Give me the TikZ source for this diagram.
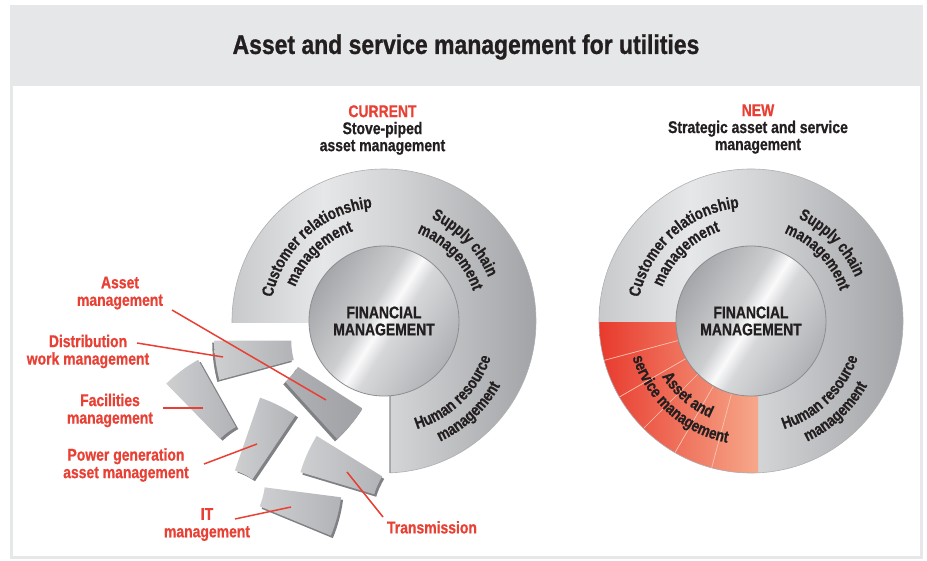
\documentclass[tikz,border=0pt]{standalone}
\usepackage{fontspec}
\setmainfont{Liberation Sans}[FakeStretch=0.82,BoldFeatures={FakeBold=0.7}]
\newfontfamily\titlefont{Liberation Sans}[FakeStretch=0.85,BoldFeatures={FakeBold=0.9}]
\usetikzlibrary{decorations.text,calc}

\definecolor{band}{RGB}{230,231,232}
\definecolor{txt}{RGB}{35,31,32}
\definecolor{lab}{RGB}{232,64,52}
\definecolor{edgec}{RGB}{140,141,144}
\definecolor{shadowc}{RGB}{128,129,132}
\definecolor{pcA}{RGB}{206,207,209}
\definecolor{pcB}{RGB}{178,179,182}
\definecolor{pdA}{RGB}{176,177,180}
\definecolor{pdB}{RGB}{160,161,164}
\definecolor{redA}{RGB}{232,58,45}
\definecolor{redB}{RGB}{246,168,138}
\definecolor{redsep}{RGB}{249,196,178}
\definecolor{rA}{RGB}{200,201,203}
\definecolor{rB}{RGB}{230,231,233}
\definecolor{rC}{RGB}{210,211,213}
\definecolor{rD}{RGB}{162,163,166}
\definecolor{mA}{RGB}{165,166,169}
\definecolor{mB}{RGB}{205,206,208}
\definecolor{mC}{RGB}{250,250,251}
\definecolor{mD}{RGB}{214,215,217}
\definecolor{mE}{RGB}{176,177,180}

\pgfdeclarehorizontalshading{ringshade}{100bp}{color(0bp)=(rA); color(25bp)=(rA); color(40bp)=(rB); color(52bp)=(rC); color(75bp)=(rD); color(100bp)=(rD)}
\pgfdeclarehorizontalshading{metalshade}{100bp}{color(0bp)=(mA); color(25bp)=(mA); color(44bp)=(mB); color(50bp)=(mC); color(55bp)=(mD); color(75bp)=(mE); color(100bp)=(mE)}

\newcommand\ringfont{\bfseries\fontsize{16.5}{16.5}\selectfont}

\tikzset{
  titlestyle/.style={font=\titlefont\bfseries\fontsize{27}{27}\selectfont, text=txt, inner sep=0},
  headstyle/.style={font=\bfseries\fontsize{17}{17}\selectfont, text=txt, align=center, inner sep=0},
  lblstyle/.style={font=\bfseries\fontsize{17}{17.5}\selectfont, text=lab, align=center, inner sep=0},
  centerstyle/.style={font=\bfseries\fontsize{17}{17}\selectfont, text=txt, align=center, inner sep=0},
  labline/.style={draw=lab, line width=1.5pt},
  ringtop/.style={decorate, decoration={text along path, text align=center, text color=txt, text={|\ringfont|#1}}},
}

% annular sector of 15 degrees, centred on the origin
\newcommand\sectorpath{(-7.5:75) arc[start angle=-7.5,end angle=7.5,radius=75] -- (7.5:152) arc[start angle=7.5,end angle=-7.5,radius=152] -- cycle}

% #1 x, #2 y, #3 angle, #4 dx, #5 dy, #6 light colour, #7 dark colour
\newcommand\mkpiece[7]{%
  \begin{scope}[shift={(#1,#2)}]
    \begin{scope}[shift={(#4,#5)},rotate=#3]
      \fill[shadowc,xshift=-113.5pt] \sectorpath;
    \end{scope}
    \begin{scope}[rotate=#3]
      \shade[xshift=-113.5pt,left color=#6,right color=#7] \sectorpath;
    \end{scope}
  \end{scope}}

\newcommand\ringtexts{%
  \path[ringtop={Customer relationship}] (192:114) arc[start angle=192,end angle=72,radius=114];
  \path[ringtop={management}] (194:95) arc[start angle=194,end angle=74,radius=95];
  \path[ringtop={Supply chain}] (104:113) arc[start angle=104,end angle=-16,radius=113];
  \path[ringtop={management}] (104:94) arc[start angle=104,end angle=-16,radius=94];
  \path[ringtop={Human resource}] (-106:113) arc[start angle=-106,end angle=14,radius=113];
  \path[ringtop={management}] (-107:133) arc[start angle=-107,end angle=13,radius=133];
}

\begin{document}
\begin{tikzpicture}[x=1pt,y=1pt]
\useasboundingbox (0,0) rectangle (927,560);
\fill[band] (9.5,1) rectangle (922.5,555);
\fill[white] (12.5,4) rectangle (920,474);
\node[titlestyle] (title) at (466,513) {Asset and service management for utilities};

% ---------------- left: current ----------------
\node[headstyle] (cur) at (382.5,430) {{\color{lab}CURRENT}\\Stove-piped\\asset management};
\begin{scope}[shift={(384,239)}]
  \shade[shading=ringshade] (180.75:152) arc[start angle=180.75,end angle=-87.74,radius=152]
     -- (-85.41:75) arc[start angle=-85.41,end angle=181.53,radius=75] -- cycle;
  \draw[edgec!70,line width=0.6pt] (180.75:152) arc[start angle=180.75,end angle=-87.74,radius=152];
  \draw[edgec,line width=1.2pt] (-85.41:75) -- (-87.74:152);
  \shade[shading=metalshade,shading angle=-32] (0,0) circle (75);
  \draw[edgec,line width=0.8pt] (0,0) circle (75);
  \ringtexts
\end{scope}
\node[centerstyle] (fin1) at (384,239) {FINANCIAL\\MANAGEMENT};

% scattered pieces
\mkpiece{253.7}{204.6}{-172.5}{-2}{-2}{pcA}{pcB}
\mkpiece{204.5}{158.5}{126.8}{2.5}{-2}{pcA}{pcB}
\mkpiece{321.5}{160.3}{-40.3}{-2}{-2.5}{pdA}{pdB}
\mkpiece{261.2}{120.2}{63.5}{2.5}{-2}{pcA}{pcB}
\mkpiece{342.5}{90.7}{155.8}{2}{-2.5}{pcA}{pcB}
\mkpiece{300}{53.1}{-14.9}{2}{-2.5}{pcA}{pcB}

% labels
\node[lblstyle] (lAsset) at (120,267) {Asset\\management};
\node[lblstyle] (lDist) at (88,208.5) {Distribution\\work management};
\node[lblstyle] (lFac) at (110,149.5) {Facilities\\management};
\node[lblstyle] (lPow) at (126,95) {Power generation\\asset management};
\node[lblstyle] (lIT) at (207,35.5) {IT\\management};
\node[lblstyle] (lTr) at (432,32.7) {Transmission};

\coordinate (sAsset) at (172,250); \coordinate (eAsset) at (326,160);
\coordinate (sDist) at (137,217);  \coordinate (eDist) at (223,203);
\coordinate (sFac) at (163,152);   \coordinate (eFac) at (203,152);
\coordinate (sPow) at (204,96);    \coordinate (ePow) at (257,116);
\coordinate (sIT) at (235,41);     \coordinate (eIT) at (291,53);
\coordinate (sTr) at (383,43);     \coordinate (eTr) at (347,88);
\draw[labline] (sAsset) -- (eAsset);
\draw[labline] (sDist) -- (eDist);
\draw[labline] (sFac) -- (eFac);
\draw[labline] (sPow) -- (ePow);
\draw[labline] (sIT) -- (eIT);
\draw[labline] (sTr) -- (eTr);

% ---------------- right: new ----------------
\node[headstyle] (new) at (758,431) {{\color{lab}NEW}\\Strategic asset and service\\management};
\begin{scope}[shift={(751,239)}]
  \shade[shading=ringshade] (0,0) circle (152);
  \begin{scope}
    \clip (0,0) circle (152);
    \clip (-160,-160) rectangle (7,-2);
    \shade[left color=redA,right color=redB] (-152,-152) rectangle (7,-2);
    \foreach \a in {195,210,225,240,255} \draw[redsep,line width=0.7pt] (\a:75) -- (\a:155);
  \end{scope}
  \draw[edgec!70,line width=0.6pt] (0,0) circle (152);
  \shade[shading=metalshade,shading angle=-32] (0,0) circle (75);
  \draw[edgec,line width=0.8pt] (0,0) circle (75);
  \ringtexts
  \path[ringtop={Asset and}] (169.5:105) arc[start angle=169.5,end angle=289.5,radius=105];
  \path[ringtop={service management}] (168:124) arc[start angle=168,end angle=288,radius=124];
\end{scope}
\node[centerstyle] (fin2) at (751,239) {FINANCIAL\\MANAGEMENT};
\end{tikzpicture}
\end{document}
